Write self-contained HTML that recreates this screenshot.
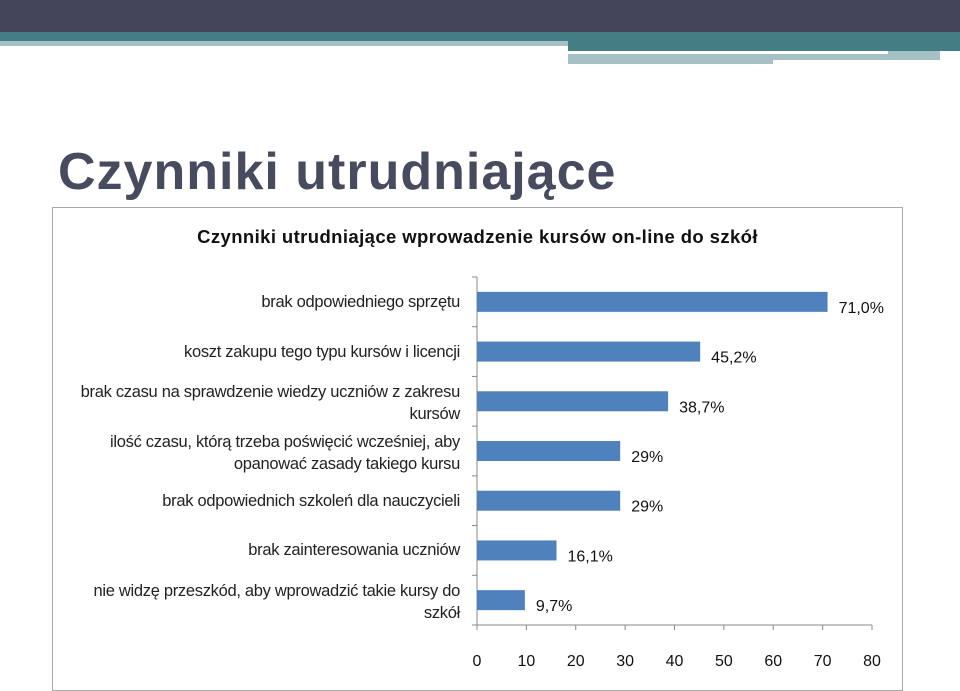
<!DOCTYPE html>
<html><head><meta charset="utf-8"><style>
body{margin:0;width:960px;height:691px;overflow:hidden;background:#fff;font-family:"Liberation Sans",sans-serif;position:relative}
.a{position:absolute}
.lbl{position:absolute;right:500px;text-align:right;font-size:16.5px;color:#222;line-height:22px;letter-spacing:-0.3px;white-space:nowrap}
</style></head><body>
<div class="a" style="left:0;top:0;width:960px;height:32px;background:#43455a"></div>
<div class="a" style="left:0;top:32px;width:960px;height:10px;background:#457d84"></div>
<div class="a" style="left:0;top:41px;width:568px;height:5px;background:#a6c1c5"></div>
<div class="a" style="left:568px;top:32px;width:392px;height:19px;background:#457d84"></div>
<div class="a" style="left:568px;top:51px;width:372px;height:9px;background:#a6c1c5"></div>
<div class="a" style="left:568px;top:51px;width:320px;height:3px;background:#fff"></div>
<div class="a" style="left:568px;top:54px;width:205px;height:10px;background:#a6c1c5"></div>
<div class="a" style="left:58px;top:142px;font-size:52px;font-weight:bold;color:#474b5f;letter-spacing:1px">Czynniki utrudniające</div>
<div class="a" style="left:52px;top:207px;width:849px;height:482px;border:1px solid #aaa"></div>
<div class="a" style="left:52px;top:226px;width:851px;text-align:center;font-size:18.5px;font-weight:bold;color:#111;letter-spacing:0.4px">Czynniki utrudniające wprowadzenie kursów on-line do szkół</div>
<div id="labels"></div>
<svg class="a" id="chart" style="left:0;top:0" width="960" height="691"></svg>
<script>
const categories=["brak odpowiedniego sprzętu","koszt zakupu tego typu kursów i licencji","brak czasu na sprawdzenie wiedzy uczniów z zakresu<br>kursów","ilość czasu, którą trzeba poświęcić wcześniej, aby<br>opanować zasady takiego kursu","brak odpowiednich szkoleń dla nauczycieli","brak zainteresowania uczniów","nie widzę przeszkód, aby wprowadzić takie kursy do<br>szkół"];
const values=[71.0,45.2,38.7,29,29,16.1,9.7];
const valueLabels=["71,0%","45,2%","38,7%","29%","29%","16,1%","9,7%"];
const ticks=[0,10,20,30,40,50,60,70,80];
const x0=477,x1=872,yTop=277,yBot=625;
const xs=v=>x0+v*(x1-x0)/80;
const band=(yBot-yTop)/categories.length;
const svg=document.getElementById('chart');const NS="http://www.w3.org/2000/svg";
function mk(t,a){const e=document.createElementNS(NS,t);for(const k in a)e.setAttribute(k,a[k]);svg.appendChild(e);return e;}
let ax=mk('line',{x1:x0,y1:yTop,x2:x0,y2:yBot,stroke:'#888'});


let bx=mk('line',{x1:x0,y1:yBot,x2:x1,y2:yBot,stroke:'#888'});


for(let i=0;i<=categories.length;i++){mk('line',{x1:x0-5,x2:x0,y1:yTop+i*band,y2:yTop+i*band,stroke:'#888'});}
ticks.forEach(t=>{mk('line',{x1:xs(t),x2:xs(t),y1:yBot,y2:yBot+5,stroke:'#888'});
const tx=mk('text',{x:xs(t),y:yBot+41,'text-anchor':'middle','font-size':'16','fill':'#111','font-family':'Liberation Sans'});tx.textContent=t;

});
const L=document.getElementById('labels');
values.forEach((v,i)=>{const cy=yTop+band*(i+0.5);
const r=mk('rect',{x:x0,y:cy-10,width:xs(v)-x0,height:20,fill:'#4f81bd'});


const t=mk('text',{x:xs(v)+11,y:cy+11,'font-size':'16','fill':'#111','font-family':'Liberation Sans'});t.textContent=valueLabels[i];


const d=document.createElement('div');d.className='lbl';d.innerHTML=categories[i];
const lines=categories[i].split('<br>').length;d.style.top=(cy-11*lines+(lines>1?2:0))+'px';


L.appendChild(d);});
</script>
</body></html>
